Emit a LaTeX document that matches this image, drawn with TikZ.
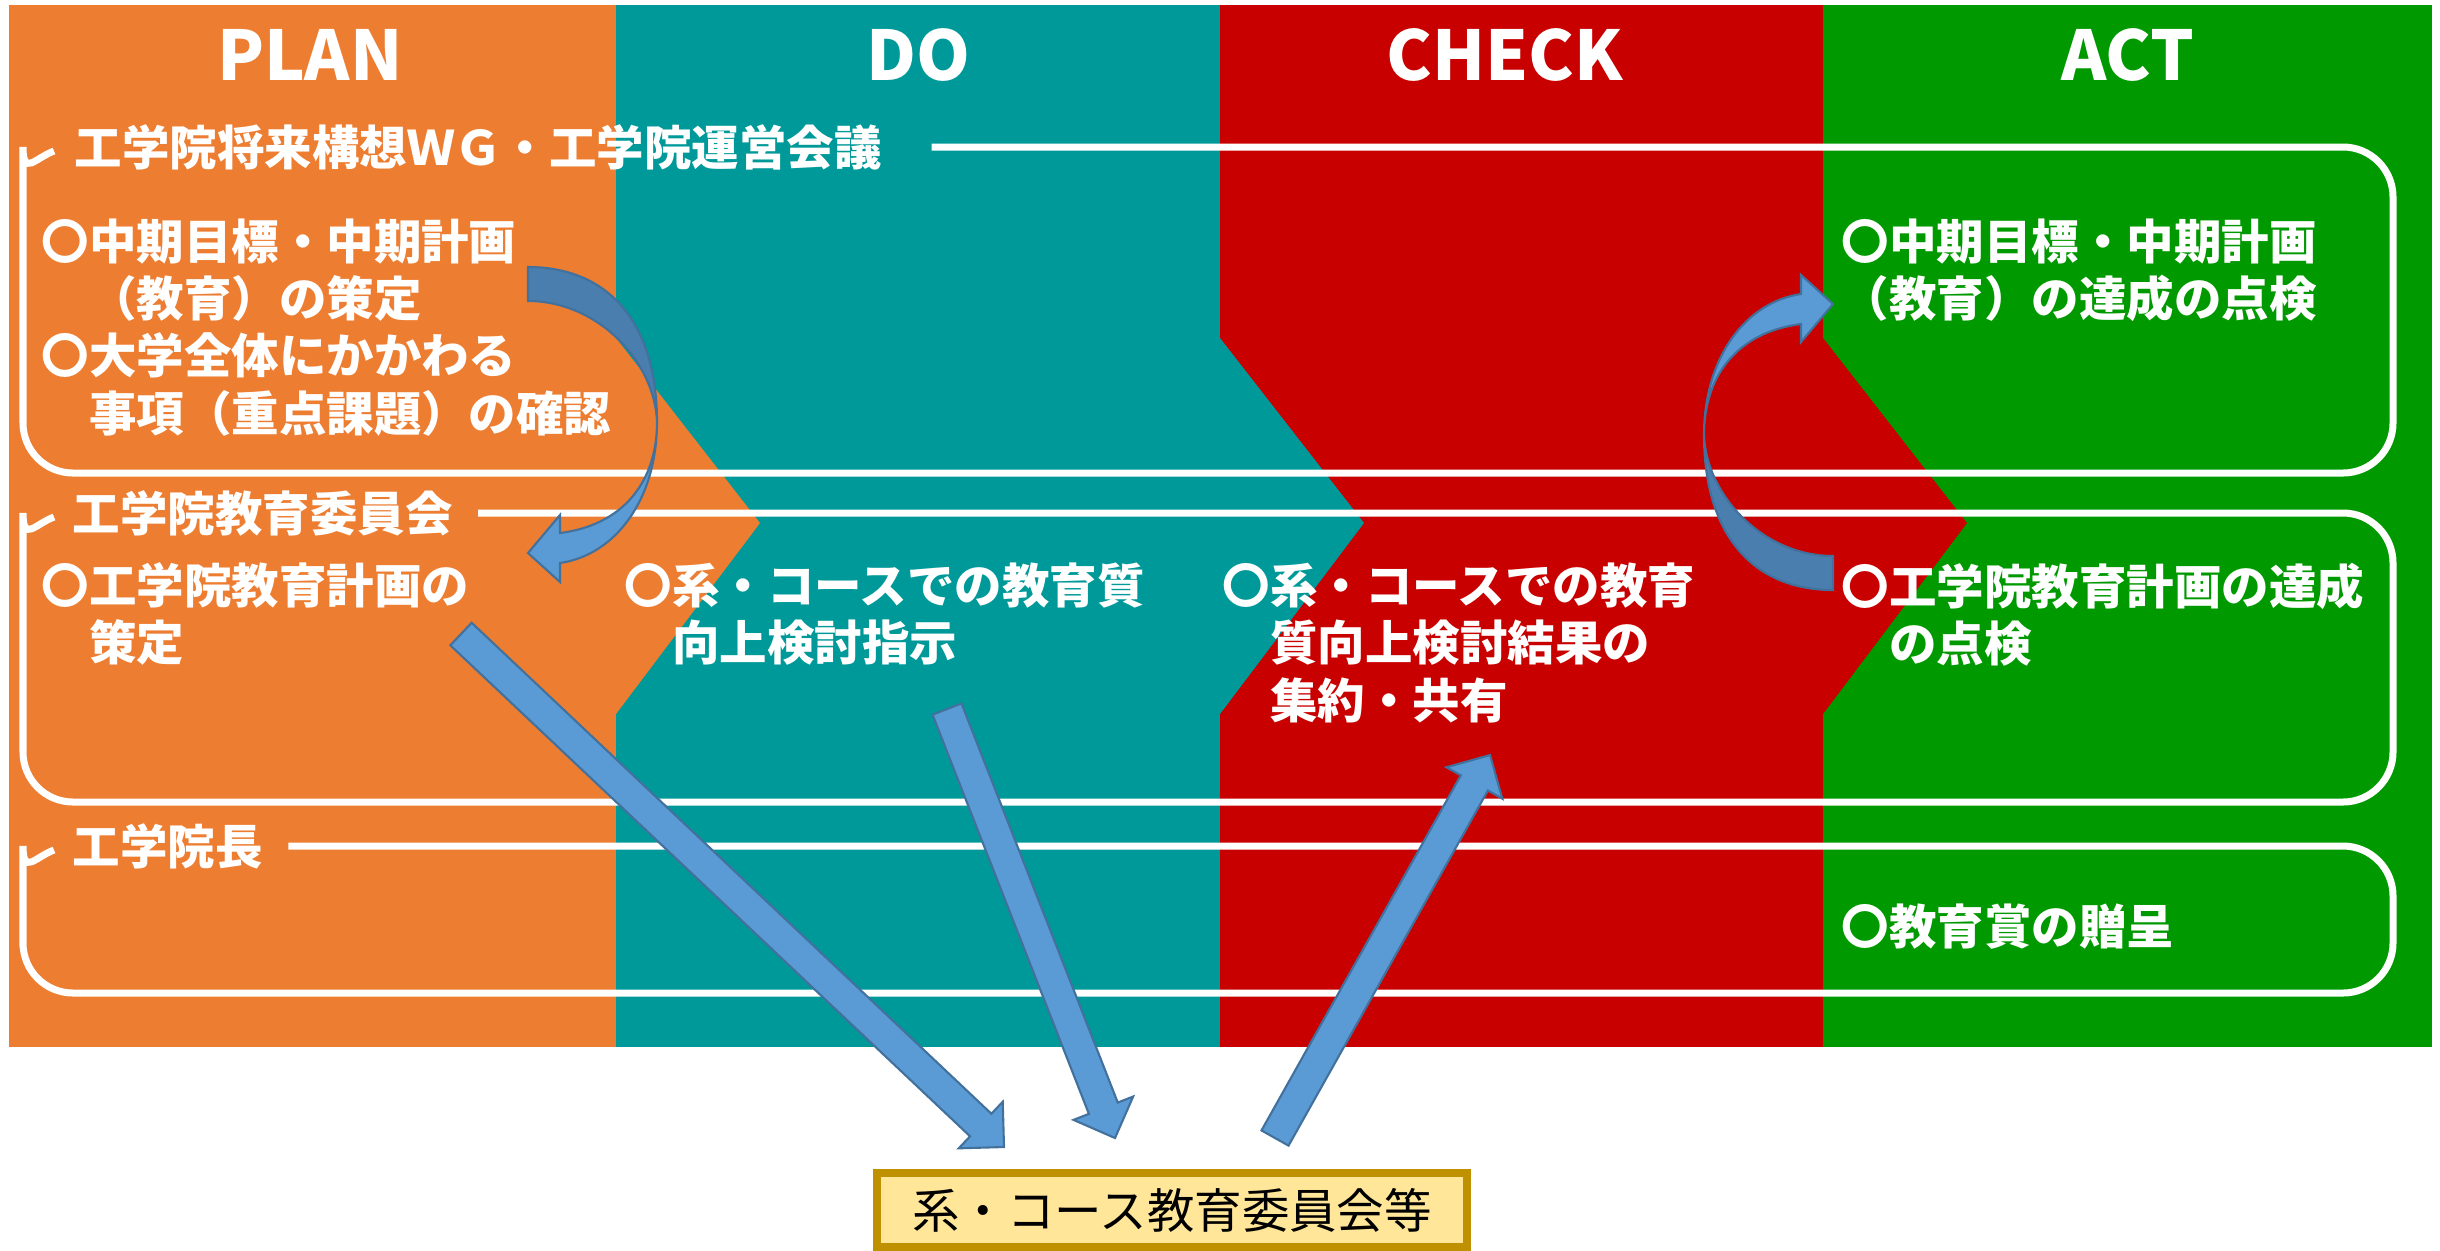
\documentclass[tikz,border=0pt]{standalone}
\usepackage{fontspec}
\usepackage{tikz}
\usetikzlibrary{calc}
\newfontfamily\jpfont{Noto Sans CJK JP}
\definecolor{planorange}{HTML}{ED7D31}
\definecolor{doteal}{HTML}{009999}
\definecolor{checkred}{HTML}{C80000}
\definecolor{actgreen}{HTML}{009900}
\definecolor{arrowpale}{HTML}{5B9BD5}
\definecolor{arrowdark}{HTML}{4A7EAE}
\definecolor{arrowline}{HTML}{41719C}
\definecolor{notefill}{HTML}{FFE699}
\definecolor{noteline}{HTML}{BF9000}
\newcommand{\blockarrow}[2]{%
  \coordinate (back) at ($(#2)!3.2mm!(#1)$);
  \filldraw[blockarrow] ($(#1)!1.55mm!90:(#2)$) -- ($(back)!1.55mm!90:(#2)$)
    -- ($(back)!3.2mm!90:(#2)$) -- (#2) -- ($(back)!3.2mm!-90:(#2)$)
    -- ($(back)!1.55mm!-90:(#2)$) -- ($(#1)!1.55mm!-90:(#2)$) -- cycle;}

\begin{document}
\begin{tikzpicture}
  [x = 0.01cm, y = -0.01cm,
   frame/.style = {white, line width = 0.7mm},
   head/.style = {text = white, anchor = base, font = \jpfont\bfseries\fontsize{19.5}{23}\selectfont},
   txt/.style = {text = white, align = left, inner sep = 0pt, anchor = north west,
                 font = \jpfont\bfseries\fontsize{13.5}{16.3}\selectfont},
   boxtitle/.style = {txt, anchor = west},
   blockarrow/.style = {fill = arrowpale, draw = arrowline, line width = 0.6pt},
   bendarrow/.pic = {
     \filldraw[fill = arrowpale, draw = arrowline, line width = 0.6pt]
       (129,155) .. controls (129,233) and (87,288) .. (32,296) -- (32,315) -- (0,286)
       -- (32,248) -- (32,266) .. controls (95,258) and (129,215) .. (129,155) -- cycle;
     \filldraw[fill = arrowdark, draw = arrowline, line width = 0.6pt]
       (0,0) .. controls (80,0) and (129,55) .. (129,155)
       .. controls (127,95) and (70,34) .. (0,34) -- cycle;
   }]
  \fill[white] (0,0) rectangle (2440,1250);
  \useasboundingbox (0,0) rectangle (2440,1250);

  % four columns
  \fill[planorange] (9,5) rectangle (616,1047);
  \fill[doteal] (616,5) rectangle (1220,1047);
  \fill[checkred] (1220,5) rectangle (1823,1047);
  \fill[actgreen] (1823,5) rectangle (2432,1047);
  \fill[planorange] (616,338) -- (760,523) -- (616,714) -- cycle;
  \fill[doteal] (1220,338) -- (1364,523) -- (1220,714) -- cycle;
  \fill[checkred] (1823,338) -- (1967,523) -- (1823,714) -- cycle;

  \node[head] (plan) at (310,80) {PLAN};
  \node[head] (do) at (918,80) {DO};
  \node[head] (check) at (1505,80) {CHECK};
  \node[head] (act) at (2128,80) {ACT};

  % bodies
  \node[boxtitle] (wg) at (74,147) {工学院将来構想ＷＧ・工学院運営会議};
  \draw[frame] ([xshift = 4.9mm]wg.east) [rounded corners = 5mm] -- (2393,147) -- (2393,473)
    -- (23,473) -- (23,197) [sharp corners] .. controls (23,177) and (35,158) .. (54,151);
  \node[boxtitle] (council) at (72,513) {工学院教育委員会};
  \draw[frame] ([xshift = 2.5mm]council.east) [rounded corners = 5mm] -- (2393,513) -- (2393,802)
    -- (23,802) -- (23,563) [sharp corners] .. controls (23,543) and (35,524) .. (54,517);
  \node[boxtitle] (dean) at (72,846) {工学院長};
  \draw[frame] ([xshift = 2.5mm]dean.east) [rounded corners = 5mm] -- (2393,846) -- (2393,993)
    -- (23,993) -- (23,896) [sharp corners] .. controls (23,876) and (35,857) .. (54,850);

  \node[txt] (planA) at (41,218) {〇中期目標・中期計画\\　（教育）の策定\\〇大学全体にかかわる\\　事項（重点課題）の確認};
  \node[txt] (actA) at (1841,218) {〇中期目標・中期計画\\（教育）の達成の点検};
  \node[txt] (planB) at (41,562) {〇工学院教育計画の\\　策定};
  \node[txt] (doB) at (624,562) {〇系・コースでの教育質\\　向上検討指示};
  \node[txt] (checkB) at (1222,562) {〇系・コースでの教育\\　質向上検討結果の\\　集約・共有};
  \node[txt] (actB) at (1841,562) {〇工学院教育計画の達成\\　の点検};
  \node[txt] (actC) at (1841,903) {〇教育賞の贈呈};

  \node[fill = notefill, draw = noteline, line width = 0.8mm, minimum width = 5.9cm,
        minimum height = 0.74cm, inner sep = 0pt, font = \jpfont\fontsize{13.5}{16}\selectfont]
    (committee) at (1172,1210) {系・コース教育委員会等};

  % arrows
  \pic at (528,267) {bendarrow};
  \pic[rotate = 180] at (1833,590) {bendarrow};
  \coordinate (planOut) at (461,634);
  \coordinate (planIn) at (1004,1147);
  \coordinate (doOut) at (947,709);
  \coordinate (doIn) at (1115,1138);
  \coordinate (checkOut) at (1275,1138);
  \coordinate (checkIn) at (1490,755);
  \blockarrow{planOut}{planIn}
  \blockarrow{doOut}{doIn}
  \blockarrow{checkOut}{checkIn}
\end{tikzpicture}
\end{document}
